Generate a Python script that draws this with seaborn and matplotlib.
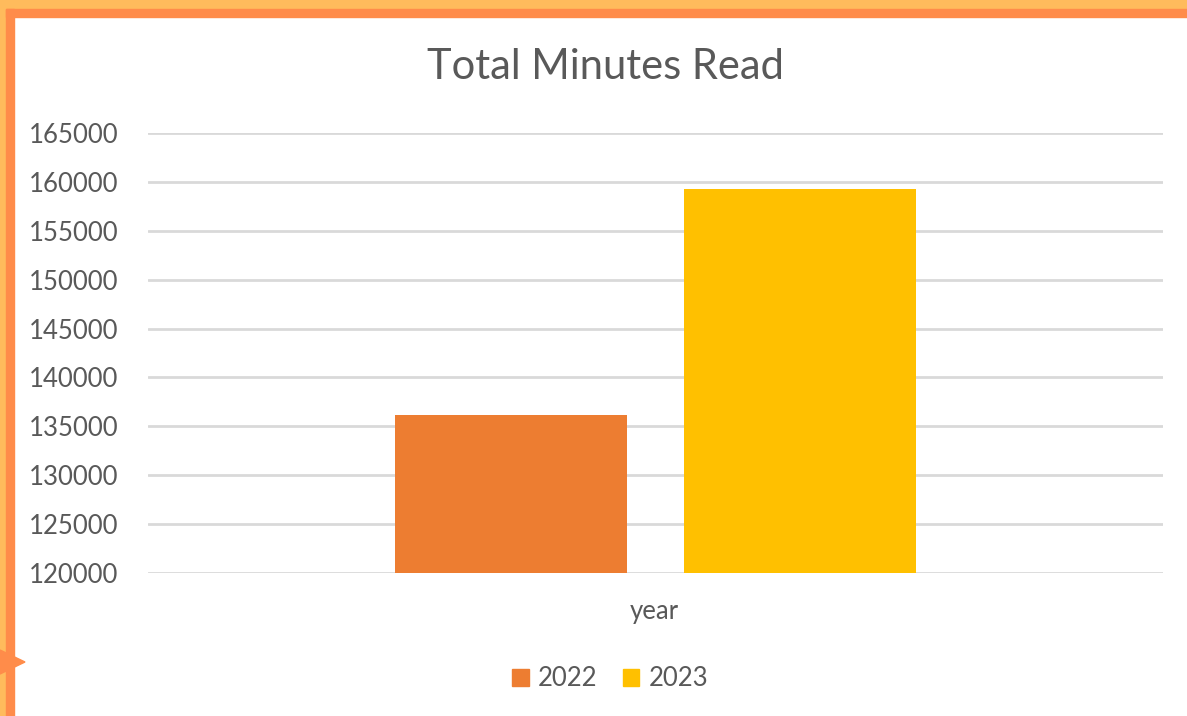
import pandas as pd
import matplotlib.pyplot as plt
import seaborn as sns
from matplotlib.patches import Rectangle, Polygon

# data
years = ['2022', '2023']
minutes = [136200, 159300]
category = 'year'
yticks = list(range(120000, 165001, 5000))

df = pd.DataFrame({'cat': [category] * len(years), 'year': years, 'minutes': minutes})

sns.set_theme(style='white')
plt.rcParams['font.family'] = ['Lato', 'DejaVu Sans']
grey = '#595959'
colors = ['#ED7D31', '#FFC000']

fig = plt.figure(figsize=(11.87, 7.16), dpi=100)
ax = fig.add_axes([148 / 1187, 1 - 573 / 716, (1163 - 148) / 1187, 440 / 716])

sns.barplot(data=df, x='cat', y='minutes', hue='year', palette=colors, saturation=1,
            width=0.57, gap=0.2, ax=ax, legend=False, zorder=3, linewidth=0)

ax.set_ylim(120000, 165000)
ax.set_xlim(-0.5, 0.5)
ax.set_yticks(yticks)
ax.set_yticklabels([str(t) for t in yticks], fontsize=18.5, color=grey)
ax.set_xticks([])
ax.set_xlabel('')
ax.set_ylabel('')
ax.grid(axis='y', color='#D9D9D9', linewidth=2, zorder=0)
ax.tick_params(axis='y', length=0, pad=21.5)
for s in ax.spines.values():
    s.set_visible(False)

fig.text(605 / 1187, 1 - 67 / 716, 'Total Minutes Read', fontsize=30, color=grey,
         ha='center', va='center')
fig.text(654 / 1187, 1 - 612 / 716, category, fontsize=18.5, color=grey, ha='center', va='center')

# legend
handles = [Rectangle((0, 0), 1, 1, color=c) for c in colors]
fig.legend(handles, years, loc='center', bbox_to_anchor=(610 / 1187, 1 - 679 / 716), ncol=2,
           frameon=False, fontsize=18.5, labelcolor=grey, handlelength=0.65, handleheight=0.65,
           handletextpad=0.35, columnspacing=1.0)

# orange frame
fig.patches.append(Rectangle((0, 1 - 9 / 716), 1, 9 / 716, color='#FFBB5C', transform=fig.transFigure))
fig.patches.append(Rectangle((0, 0), 6 / 1187, 1, color='#FFBB5C', transform=fig.transFigure))
fig.patches.append(Rectangle((6 / 1187, 1 - 17 / 716), 1, 8 / 716, color='#FF8C4A', transform=fig.transFigure))
fig.patches.append(Rectangle((6 / 1187, 0), 8 / 1187, 1 - 9 / 716, color='#FF8C4A', transform=fig.transFigure))
fig.patches.append(Polygon([(0, 1 - 650 / 716), (25 / 1187, 1 - 662 / 716), (0, 1 - 674 / 716)],
                           closed=True, color='#FF8C4A', transform=fig.transFigure))

fig.savefig('out.png', dpi=100)
